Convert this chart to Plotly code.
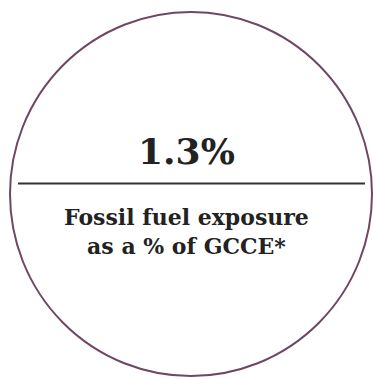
import plotly.graph_objects as go

value = [1.3]
value_suffix = ["%"]
caption_lines = ["Fossil fuel exposure", "as a % of GCCE*"]

W, H = 373, 379
fig = go.Figure()
fig.update_layout(
    width=W, height=H, margin=dict(l=0, r=0, t=0, b=0),
    paper_bgcolor="white", plot_bgcolor="white", showlegend=False,
    xaxis=dict(range=[0, W], visible=False, fixedrange=True),
    yaxis=dict(range=[H, 0], visible=False, fixedrange=True),
)
fig.add_shape(type="circle", xref="x", yref="y", x0=10, x1=372, y0=12, y1=376,
              line=dict(color="#6e4763", width=2))
fig.add_shape(type="line", xref="x", yref="y", x0=18, x1=365, y0=183.5, y1=183.5,
              line=dict(color="#333333", width=2))
serif = "DejaVu Serif"
fig.add_annotation(x=186, y=151, xref="x", yref="y", showarrow=False,
                   text=f"<b>{value[0]}{value_suffix[0]}</b>",
                   font=dict(family=serif, size=36, color="#222222"))
fig.add_annotation(x=186, y=231, xref="x", yref="y", showarrow=False,
                   text="<b>" + "<br>".join(caption_lines) + "</b>",
                   font=dict(family=serif, size=22, color="#222222"))
fig.write_html("out.html", config={"displayModeBar": False, "staticPlot": True},
               post_script="document.body.style.margin='0';document.body.style.overflow='hidden';")
